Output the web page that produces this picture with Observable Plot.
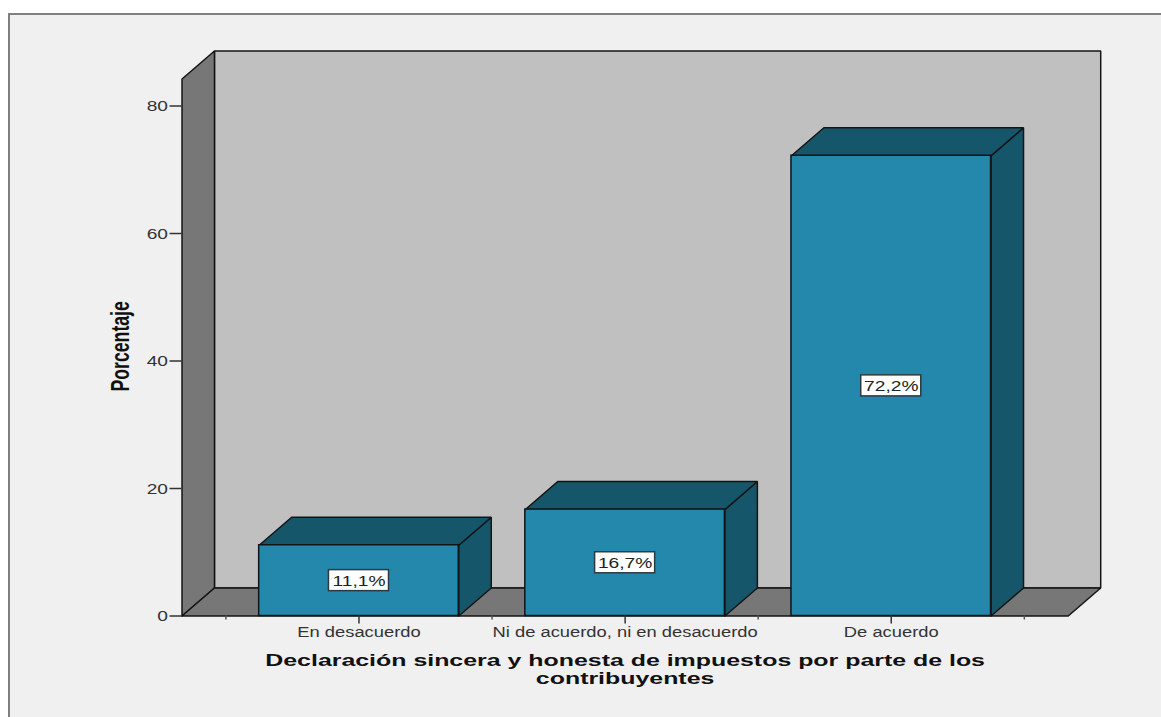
<!DOCTYPE html>
<html lang="es">
<head>
<meta charset="utf-8">
<script src="https://cdn.jsdelivr.net/npm/d3@7"></script>
<script src="https://cdn.jsdelivr.net/npm/@observablehq/plot@0.6"></script>
<style>
html,body{margin:0;padding:0;background:#fff;overflow:hidden;width:1161px;height:717px}
#panel{position:absolute;left:8px;top:13px;right:0;bottom:0;background:#f0f0f0;border-left:2px solid #808080;border-top:2px solid #808080}
#chart{position:absolute;left:0;top:0}
</style>
</head>
<body>
<div id="panel"></div>
<div id="chart"></div>
<script>
const categories = ["En desacuerdo", "Ni de acuerdo, ni en desacuerdo", "De acuerdo"];
const percentages = [11.1, 16.7, 72.2];
const valueLabels = ["11,1%", "16,7%", "72,2%"];
const positions = [1, 2, 3];
const yTicks = [0, 20, 40, 60, 80];
const minorTicks = [0.5, 1.5, 2.5, 3.5];
const yLabel = "Porcentaje";
const xTitleLines = ["Declaración sincera y honesta de impuestos por parte de los", "contribuyentes"];

// Oblique depth of the fake 3D projection, in data units
const depthX = 0.122, depthY = 4.39;
const xStart = 0.335, xFloorEnd = 3.665, yFrontTop = 84.24;
const halfBar = 0.375;

const poly = (face, pts) => pts.concat([pts[0]]).map(([x, y]) => ({face, x, y}));

const leftWall = poly("left", [[xStart, 0], [xStart + depthX, depthY], [xStart + depthX, yFrontTop + depthY], [xStart, yFrontTop]]);
const backWall = poly("back", [[xStart + depthX, depthY], [xFloorEnd + depthX, depthY], [xFloorEnd + depthX, yFrontTop + depthY], [xStart + depthX, yFrontTop + depthY]]);
const floor = poly("floor", [[xStart, 0], [xFloorEnd, 0], [xFloorEnd + depthX, depthY], [xStart + depthX, depthY]]);

const bars = positions.map((p, i) => ({p, v: percentages[i], label: valueLabels[i], cat: categories[i]}));
const topFaces = bars.flatMap((b, i) => poly("top" + i, [[b.p - halfBar, b.v], [b.p + halfBar, b.v], [b.p + halfBar + depthX, b.v + depthY], [b.p - halfBar + depthX, b.v + depthY]]));
const sideFaces = bars.flatMap((b, i) => poly("side" + i, [[b.p + halfBar, 0], [b.p + halfBar + depthX, depthY], [b.p + halfBar + depthX, b.v + depthY], [b.p + halfBar, b.v]]));

const edge = "#141414", wallGray = "#777777", backGray = "#c0c0c0", barBlue = "#2488ad", barDark = "#16566b", inkGray = "#333333";
const faceStyle = (fill) => ({x: "x", y: "y", z: "face", fill, stroke: edge, strokeWidth: 1.5, strokeLinejoin: "miter"});

const svg = Plot.plot({
  width: 1161, height: 717,
  marginLeft: 181.5, marginRight: 60.8, marginTop: 50.5, marginBottom: 101.5,
  style: {background: "transparent", fontFamily: "Liberation Sans, Arial, sans-serif", fontSize: "14px"},
  x: {type: "linear", domain: [xStart, xFloorEnd + depthX]},
  y: {type: "linear", domain: [0, yFrontTop + depthY]},
  marks: [
    Plot.line(backWall, faceStyle(backGray)),
    Plot.line(leftWall, faceStyle(wallGray)),
    Plot.line(floor, faceStyle(wallGray)),
    Plot.line(sideFaces, faceStyle(barDark)),
    Plot.line(topFaces, faceStyle(barDark)),
    Plot.rect(bars, {x1: d => d.p - halfBar, x2: d => d.p + halfBar, y1: 0, y2: "v", fill: barBlue, stroke: edge, strokeWidth: 1.5}),
    Plot.rect(bars, {x1: d => d.p - 0.1128, x2: d => d.p + 0.1128, y1: d => d.v / 2 - 1.65, y2: d => d.v / 2 + 1.65, fill: "white", stroke: "#2b3a40", strokeWidth: 1.5}),
    Plot.text(bars, {x: "p", y: d => d.v / 2, text: "label", fill: "#222222", fontSize: 14, dy: 0.5}),
    Plot.axisY({ticks: yTicks, tickSize: 12, tickFormat: () => "", label: null, stroke: inkGray, strokeWidth: 1.5}),
    Plot.axisY({ticks: yTicks, tickSize: 0, tickPadding: 14, label: null, fontSize: 14, fill: inkGray, dy: 1}),
    Plot.axisX({ticks: minorTicks, tickSize: 4, tickFormat: () => "", label: null, stroke: "#555555", strokeWidth: 1.5}),
    Plot.axisX({ticks: positions, tickSize: 8, tickPadding: 3, tickFormat: d => categories[d - 1], label: null, fontSize: 14, stroke: inkGray, strokeWidth: 1.5, fill: inkGray}),
    Plot.text([yLabel], {x: xStart, y: 42.3, text: d => d, rotate: -90, dx: -61, fontSize: 26, fontWeight: "bold", fill: "#111111"}),
    Plot.text([xTitleLines[0]], {x: 2, y: 0, text: d => d, dy: 45, fontSize: 17, fontWeight: "bold", fill: "#111111"}),
    Plot.text([xTitleLines[1]], {x: 2, y: 0, text: d => d, dy: 63, fontSize: 17, fontWeight: "bold", fill: "#111111"})
  ]
});
document.getElementById("chart").appendChild(svg);

// The reference is stretched horizontally: widen horizontal text, squeeze the rotated one.
const stretchFor = (s) => s === yLabel ? 0.68
  : xTitleLines.includes(s) ? 1.465
  : categories.includes(s) ? 1.31
  : 1.37;
svg.querySelectorAll("text").forEach(t => {
  const len = t.getComputedTextLength();
  if (!len) return;
  t.setAttribute("textLength", (len * stretchFor(t.textContent)).toFixed(1));
  t.setAttribute("lengthAdjust", "spacingAndGlyphs");
});
</script>
</body>
</html>
